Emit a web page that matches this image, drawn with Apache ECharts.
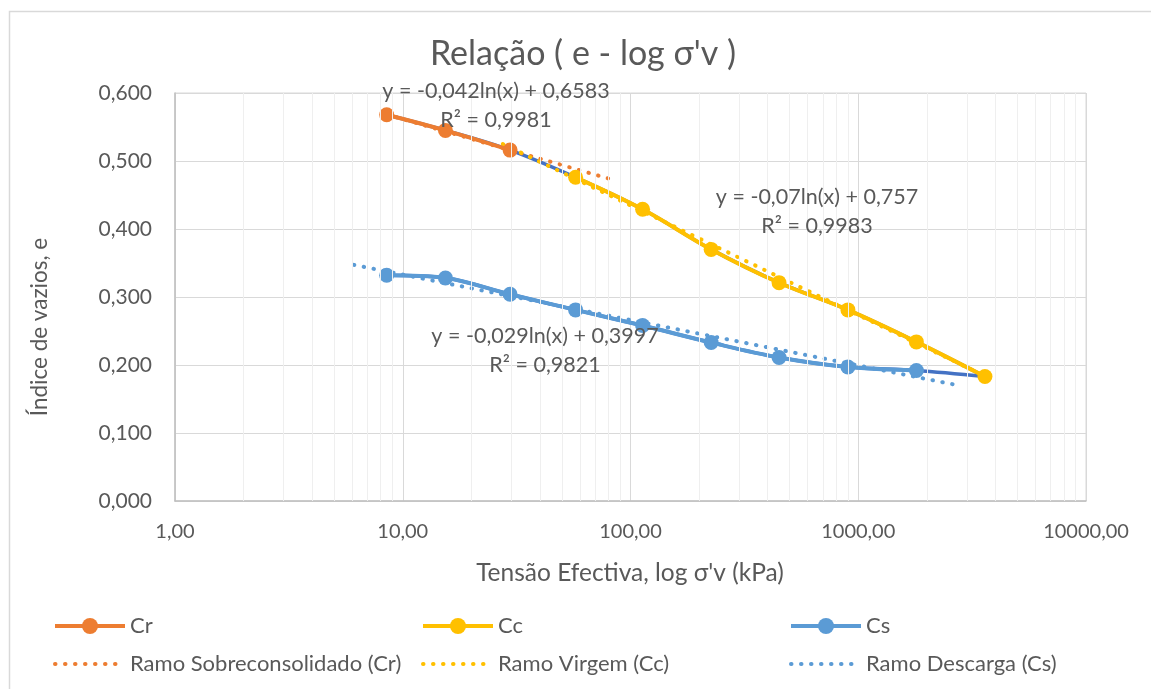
<!DOCTYPE html>
<html>
<head>
<meta charset="utf-8">
<script src="https://cdn.jsdelivr.net/npm/echarts@6/dist/echarts.min.js"></script>
<style>
  html, body { margin: 0; padding: 0; background: #fff; }
  #chart { width: 1151px; height: 689px; }
</style>
</head>
<body>
<div id="chart"></div>
<script>
// Oedometer test: void ratio e against effective stress σ'v (kPa)
const crStress = [8.5, 15.4, 29.6];
const crVoid   = [0.568, 0.545, 0.516];

const ccStress = [57.4, 113, 226, 449, 901, 1800, 3600];
const ccVoid   = [0.476, 0.429, 0.370, 0.321, 0.281, 0.234, 0.183];

const csStress = [1800, 901, 449, 226, 113, 57.4, 29.6, 15.4, 8.5];
const csVoid   = [0.192, 0.197, 0.211, 0.233, 0.258, 0.281, 0.304, 0.328, 0.332];

// Logarithmic trendlines  y = a·ln(x) + b
const trendNames = ['Ramo Sobreconsolidado (Cr)', 'Ramo Virgem (Cc)', 'Ramo Descarga (Cs)'];
const trendA     = [-0.042, -0.07, -0.029];
const trendB     = [0.6583, 0.757, 0.3997];
const trendR2    = [0.9981, 0.9983, 0.9821];
const trendFrom  = [8.5, 27.5, 6.1];
const trendTo    = [82, 3600, 2750];

// Axis ticks
const xMajorTicks = [1, 10, 100, 1000, 10000];
const yMin = 0, yMax = 0.6, yStep = 0.1;

const COLORS = { cr: '#ED7D31', cc: '#FFC000', cs: '#5B9BD5', loop: '#4472C4' };
const TEXT = '#595959';
const FONT = 'Lato, "Open Sans", sans-serif';
const DOTS = [0.5, 9.5];

const zip = (xs, ys) => xs.map((x, i) => [x, ys[i]]);
const comma = (n) => String(n).replace('.', ',');

// minor log gridlines 2..9 in each decade
const minorTicks = [];
for (let d = 0; d < xMajorTicks.length - 1; d++) {
  for (let k = 2; k <= 9; k++) minorTicks.push(k * xMajorTicks[d]);
}

// full loading / unloading path (drawn underneath the coloured branches)
const loopStress = crStress.concat(ccStress, csStress);
const loopVoid   = crVoid.concat(ccVoid, csVoid);

const trendColors = [COLORS.cr, COLORS.cc, COLORS.cs];
const trendSeries = trendNames.map((name, i) => ({
  type: 'line',
  name: name,
  data: [trendFrom[i], trendTo[i]].map(x => [x, trendA[i] * Math.log(x) + trendB[i]]),
  symbol: 'none',
  lineStyle: { color: trendColors[i], width: 4, type: DOTS, cap: 'round' },
  itemStyle: { color: trendColors[i] },
  z: 2
}));

function dataSeries(name, xs, ys, color) {
  return {
    type: 'line',
    name: name,
    data: zip(xs, ys),
    smooth: 0.35,
    symbol: 'circle',
    symbolSize: 15,
    lineStyle: { color: color, width: 4 },
    itemStyle: { color: color },
    z: 3
  };
}

// equation labels
const labelPos = [[496, 91], [817, 197], [545, 336]];
const labelGraphics = [];
trendNames.forEach((_, i) => {
  const eq = 'y = ' + comma(trendA[i]) + 'ln(x) + ' + comma(trendB[i]);
  const r2 = 'R² = ' + comma(trendR2[i]);
  [[eq, 0], [r2, 29]].forEach(([t, dy]) => {
    labelGraphics.push({
      type: 'text', x: labelPos[i][0], y: labelPos[i][1] + dy, z: 10,
      style: { text: t, fill: TEXT, fontSize: 21.5, fontFamily: FONT, align: 'center', verticalAlign: 'middle' }
    });
  });
});

const legendBase = {
  orient: 'vertical', top: 610, itemWidth: 70, itemHeight: 20, itemGap: 16,
  lineStyle: { width: 4 },
  textStyle: { fontSize: 22, fontFamily: FONT, color: TEXT }
};
const legendItems = (series, trend) => [series, { name: trend, itemStyle: { opacity: 0 } }];

const chart = echarts.init(document.getElementById('chart'), null, { renderer: 'canvas' });
chart.setOption({
  animation: false,
  backgroundColor: '#fff',
  grid: { left: 175, top: 93, right: 65, bottom: 188, show: true, borderColor: '#d9d9d9', borderWidth: 1 },
  xAxis: {
    type: 'log', logBase: 10, min: xMajorTicks[0], max: xMajorTicks[xMajorTicks.length - 1],
    axisLine: { show: true, lineStyle: { color: '#bfbfbf', width: 1.5 } },
    axisTick: { show: false },
    splitLine: { show: true, lineStyle: { color: '#d9d9d9', width: 1 } },
    axisLabel: { margin: 21, fontSize: 20, fontFamily: FONT, color: TEXT, formatter: v => v.toFixed(2).replace('.', ',') }
  },
  yAxis: {
    type: 'value', min: yMin, max: yMax, interval: yStep,
    axisLine: { show: true, lineStyle: { color: '#bfbfbf', width: 1.5 } },
    axisTick: { show: false },
    splitLine: { show: true, lineStyle: { color: '#d9d9d9', width: 1 } },
    axisLabel: { margin: 23, fontSize: 21, fontFamily: FONT, color: TEXT, formatter: v => v.toFixed(3).replace('.', ',') }
  },
  legend: [
    Object.assign({ left: 48, data: legendItems('Cr', trendNames[0]) }, legendBase),
    Object.assign({ left: 416, data: legendItems('Cc', trendNames[1]) }, legendBase),
    Object.assign({ left: 784, data: legendItems('Cs', trendNames[2]) }, legendBase)
  ],
  graphic: [
    { type: 'rect', z: -10, shape: { x: 9.5, y: 11.5, width: 1300, height: 900 },
      style: { fill: 'none', stroke: '#d9d9d9', lineWidth: 1.5 } },
    { type: 'text', x: 583, y: 54, z: 10,
      style: { text: "Relação ( e - log σ'v )", fill: TEXT, fontSize: 34, fontFamily: FONT, align: 'center', verticalAlign: 'middle' } },
    { type: 'text', x: 630, y: 573, z: 10,
      style: { text: "Tensão Efectiva, log σ'v (kPa)", fill: TEXT, fontSize: 24.5, fontFamily: FONT, align: 'center', verticalAlign: 'middle' } },
    { type: 'text', x: 40, y: 327, rotation: Math.PI / 2, z: 10,
      style: { text: 'Índice de vazios, e', fill: TEXT, fontSize: 22.5, fontFamily: FONT, align: 'center', verticalAlign: 'middle' } }
  ].concat(labelGraphics),
  series: [
    {
      type: 'line', name: 'minor-grid', data: [], z: -1, silent: true,
      markLine: {
        silent: true, symbol: 'none', label: { show: false },
        lineStyle: { color: '#efefef', width: 1, type: 'solid' },
        data: minorTicks.map(v => ({ xAxis: v }))
      }
    },
    {
      type: 'line', name: 'Curva', data: zip(loopStress, loopVoid), smooth: 0.35,
      symbol: 'none', lineStyle: { color: COLORS.loop, width: 3.5 }, itemStyle: { color: COLORS.loop }, z: 1
    }
  ].concat(trendSeries, [
    dataSeries('Cr', crStress, crVoid, COLORS.cr),
    dataSeries('Cc', ccStress, ccVoid, COLORS.cc),
    dataSeries('Cs', csStress, csVoid, COLORS.cs)
  ])
});
</script>
</body>
</html>
